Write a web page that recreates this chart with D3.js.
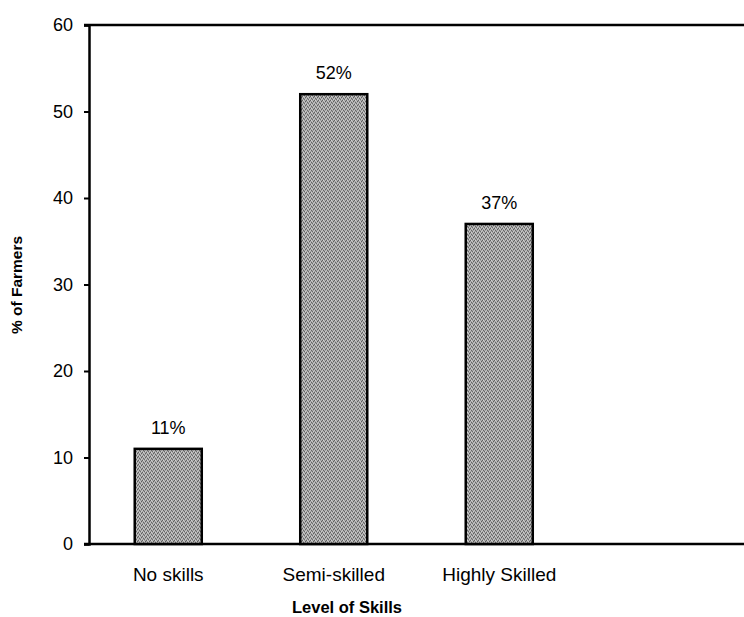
<!DOCTYPE html>
<html>
<head>
<meta charset="utf-8">
<script src="https://cdn.jsdelivr.net/npm/d3@7"></script>
<style>
  body { margin: 0; background: #fff; }
  text { font-family: "Liberation Sans", Arial, sans-serif; fill: #000; }
</style>
</head>
<body>
<svg width="744" height="617"></svg>
<script>
const categories = ["No skills", "Semi-skilled", "Highly Skilled"];
const values = [11, 52, 37];
const yTicks = [0, 10, 20, 30, 40, 50, 60];

const svg = d3.select("svg");
const margin = {top: 25, left: 89, bottom: 73, right: 0};
const width = 744 - margin.left - margin.right;
const height = 617 - margin.top - margin.bottom;

// speckled grey fill for the bars (scan look)
const defs = svg.append("defs");
const pat = defs.append("pattern")
    .attr("id", "grain")
    .attr("width", 4).attr("height", 4)
    .attr("patternUnits", "userSpaceOnUse");
pat.append("rect").attr("width", 4).attr("height", 4).attr("fill", "#a4a4a4");
[[0, 0, "#5e5e5e"], [2, 1, "#666"], [1, 3, "#626262"], [3, 2, "#6a6a6a"],
 [2, 3, "#d2d2d2"], [0, 2, "#cccccc"], [3, 0, "#c8c8c8"], [1, 1, "#c4c4c4"]]
    .forEach(p => pat.append("rect")
        .attr("x", p[0]).attr("y", p[1])
        .attr("width", 1).attr("height", 1)
        .attr("fill", p[2]));

const x = d3.scaleBand().domain(categories).range([-3.5, 493])
    .paddingInner(0.595).paddingOuter(0.2975);
const y = d3.scaleLinear().domain([0, 60]).range([height, 0]);

const g = svg.append("g")
    .attr("transform", "translate(" + margin.left + "," + margin.top + ")");

// top frame line
g.append("line")
    .attr("x1", -5).attr("x2", width)
    .attr("y1", 0).attr("y2", 0)
    .attr("stroke", "#000").attr("stroke-width", 2.5);

// bottom line
g.append("line")
    .attr("x1", -5).attr("x2", width)
    .attr("y1", height).attr("y2", height)
    .attr("stroke", "#000").attr("stroke-width", 2.5);

const yAxis = g.append("g")
    .call(d3.axisLeft(y).tickValues(yTicks).tickSize(5).tickPadding(11));
yAxis.select(".domain").attr("stroke", "#000").attr("stroke-width", 2.5);
yAxis.selectAll(".tick line").attr("stroke", "#000").attr("stroke-width", 2);
yAxis.selectAll(".tick text")
    .attr("font-size", 18)
    .attr("font-family", "Liberation Sans, Arial, sans-serif");

g.selectAll(".bar")
    .data(values)
    .enter().append("rect")
    .attr("class", "bar")
    .attr("x", (d, i) => x(categories[i]))
    .attr("y", d => y(d))
    .attr("width", x.bandwidth())
    .attr("height", d => height - y(d))
    .attr("fill", "url(#grain)")
    .attr("stroke", "#000")
    .attr("stroke-width", 2.5);

g.selectAll(".val")
    .data(values)
    .enter().append("text")
    .attr("class", "val")
    .attr("x", (d, i) => x(categories[i]) + x.bandwidth() / 2)
    .attr("y", d => y(d) - 15)
    .attr("text-anchor", "middle")
    .attr("font-size", 18)
    .text(d => d + "%");

g.selectAll(".cat")
    .data(categories)
    .enter().append("text")
    .attr("class", "cat")
    .attr("x", d => x(d) + x.bandwidth() / 2)
    .attr("y", height + 37)
    .attr("text-anchor", "middle")
    .attr("font-size", 19)
    .text(d => d);

svg.append("text")
    .attr("x", 347)
    .attr("y", 613)
    .attr("text-anchor", "middle")
    .attr("font-size", 16.5)
    .attr("font-weight", "bold")
    .text("Level of Skills");

svg.append("text")
    .attr("transform", "translate(22,285) rotate(-90)")
    .attr("text-anchor", "middle")
    .attr("font-size", 15.5)
    .attr("font-weight", "bold")
    .text("% of Farmers");
</script>
</body>
</html>
